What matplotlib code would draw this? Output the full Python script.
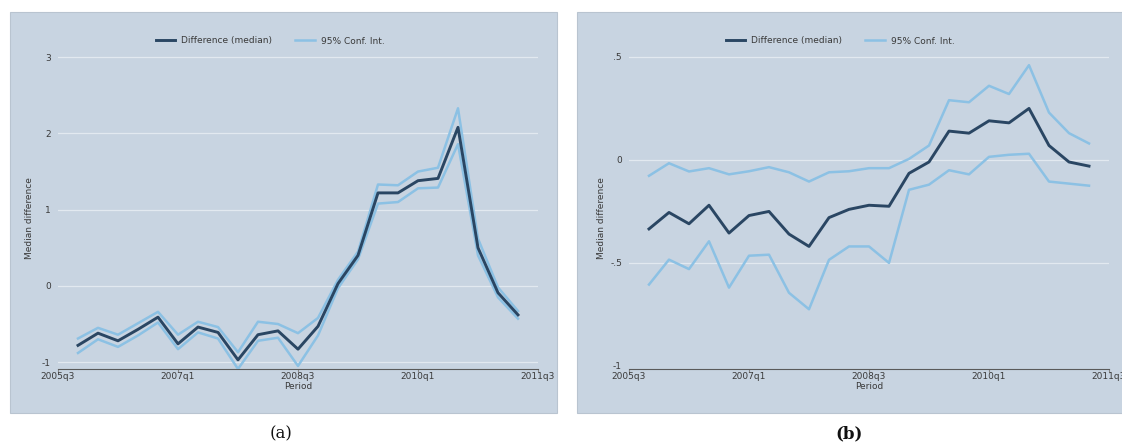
import matplotlib
matplotlib.use("Agg")
import matplotlib.pyplot as plt
from matplotlib.patches import Rectangle

# ---- data ----
quarters = list(range(1, 24))  # 2005q4 .. 2011q2 (index from 2005q3 = 0)
xtick_pos = [0, 6, 12, 18, 24]
xtick_labels = ["2005q3", "2007q1", "2008q3", "2010q1", "2011q3"]

median_a = [-0.78, -0.62, -0.72, -0.57, -0.41, -0.76, -0.54, -0.61, -0.97, -0.64, -0.59, -0.83,
            -0.53, 0.03, 0.40, 1.22, 1.22, 1.38, 1.41, 2.08, 0.50, -0.09, -0.38]
upper_a = [-0.69, -0.55, -0.64, -0.49, -0.34, -0.64, -0.47, -0.54, -0.87, -0.47, -0.50, -0.62,
           -0.42, 0.08, 0.45, 1.33, 1.32, 1.50, 1.55, 2.33, 0.62, -0.02, -0.33]
lower_a = [-0.88, -0.70, -0.80, -0.65, -0.48, -0.83, -0.61, -0.69, -1.09, -0.72, -0.68, -1.05,
           -0.65, -0.03, 0.35, 1.08, 1.10, 1.28, 1.29, 1.86, 0.40, -0.15, -0.43]
yticks_a = [-1, 0, 1, 2, 3]
yticklabels_a = ["-1", "0", "1", "2", "3"]

median_b = [-0.335, -0.255, -0.31, -0.22, -0.355, -0.27, -0.25, -0.36, -0.42, -0.28, -0.24, -0.22,
            -0.225, -0.065, -0.01, 0.14, 0.13, 0.19, 0.18, 0.25, 0.07, -0.01, -0.03]
upper_b = [-0.077, -0.016, -0.056, -0.04, -0.07, -0.055, -0.035, -0.06, -0.105, -0.06, -0.055, -0.04,
           -0.04, 0.005, 0.07, 0.29, 0.28, 0.36, 0.32, 0.46, 0.23, 0.13, 0.08]
lower_b = [-0.605, -0.484, -0.53, -0.395, -0.62, -0.465, -0.46, -0.645, -0.725, -0.485, -0.42, -0.42,
           -0.50, -0.145, -0.12, -0.05, -0.07, 0.015, 0.025, 0.03, -0.105, -0.115, -0.125]
yticks_b = [-1, -0.5, 0, 0.5]
yticklabels_b = ["-1", "-.5", "0", ".5"]

# ---- style ----
W, H = 1122, 448
BG = "#c8d4e1"
GRID = "#e2e9f0"
DARK = "#2a4663"
LIGHT = "#8cc1e4"
TXT = "#3a3a3a"

fig = plt.figure(figsize=(W / 100, H / 100), dpi=100)
fig.patch.set_facecolor("white")


def px_rect(x0, y0, x1, y1):
    return [x0 / W, 1 - y1 / H, (x1 - x0) / W, (y1 - y0) / H]


def panel(bg_x0, bg_x1, ax_x0, ax_x1, ylim, med, up, lo, yt, ytl, leg_cx, caption, bold):
    # graph region background
    fig.patches.append(Rectangle((bg_x0 / W, 1 - 413 / H), (bg_x1 - bg_x0) / W, (413 - 12) / H,
                                 transform=fig.transFigure, facecolor=BG,
                                 edgecolor="#b9c4d0", lw=0.8, zorder=-5))
    ax = fig.add_axes(px_rect(ax_x0, 45, ax_x1, 369))
    ax.set_zorder(5)
    ax.patch.set_alpha(0)
    ax.set_xlim(0, 24)
    ax.set_ylim(*ylim)
    for s in ["top", "right", "left"]:
        ax.spines[s].set_visible(False)
    ax.spines["bottom"].set_color("#5a5a5a")
    ax.spines["bottom"].set_linewidth(0.8)
    ax.set_yticks(yt)
    ax.set_yticklabels(ytl)
    ax.set_xticks(xtick_pos)
    ax.set_xticklabels(xtick_labels)
    ax.tick_params(axis="y", length=0, pad=5, labelsize=6.5, labelcolor=TXT)
    ax.tick_params(axis="x", length=2, pad=0.3, labelsize=6.5, labelcolor=TXT, color="#8a8a8a")
    for v in yt:
        if v > ylim[0] + 0.05:
            ax.axhline(v, color=GRID, lw=0.9, zorder=1)
    l1, = ax.plot(quarters, med, color=DARK, lw=2.1, zorder=4, label="Difference (median)")
    l2, = ax.plot(quarters, up, color=LIGHT, lw=1.8, zorder=3, label="95% Conf. Int.")
    ax.plot(quarters, lo, color=LIGHT, lw=1.8, zorder=3)
    ax.legend(handles=[l1, l2], loc="center", bbox_to_anchor=(leg_cx / W, 1 - 41 / H),
              bbox_transform=fig.transFigure, ncol=2, frameon=False, fontsize=6.5,
              handlelength=2.2, columnspacing=2.6, handletextpad=0.6, labelcolor=TXT)
    cx = (ax_x0 + ax_x1) / 2
    fig.text(cx / W, 1 - 386 / H, "Period", ha="center", va="center", fontsize=6.5, color=TXT)
    fig.text((ax_x0 - 28) / W, 1 - 218 / H, "Median difference", rotation=90,
             ha="center", va="center", fontsize=6.5, color=TXT)
    fig.text((bg_x0 + bg_x1) / 2 / W - 0.002, 1 - 434 / H, caption, ha="center", va="center",
             fontsize=12, family="DejaVu Serif", fontweight="bold" if bold else "normal",
             color="#111111")
    return ax


panel(10, 557, 58, 538, (-1.09, 3.16), median_a, upper_a, lower_a, yticks_a, yticklabels_a,
      270, "(a)", False)
panel(577, 1125, 629, 1109, (-1.015, 0.558), median_b, upper_b, lower_b, yticks_b, yticklabels_b,
      840, "(b)", True)

fig.savefig("out.png", dpi=100)
